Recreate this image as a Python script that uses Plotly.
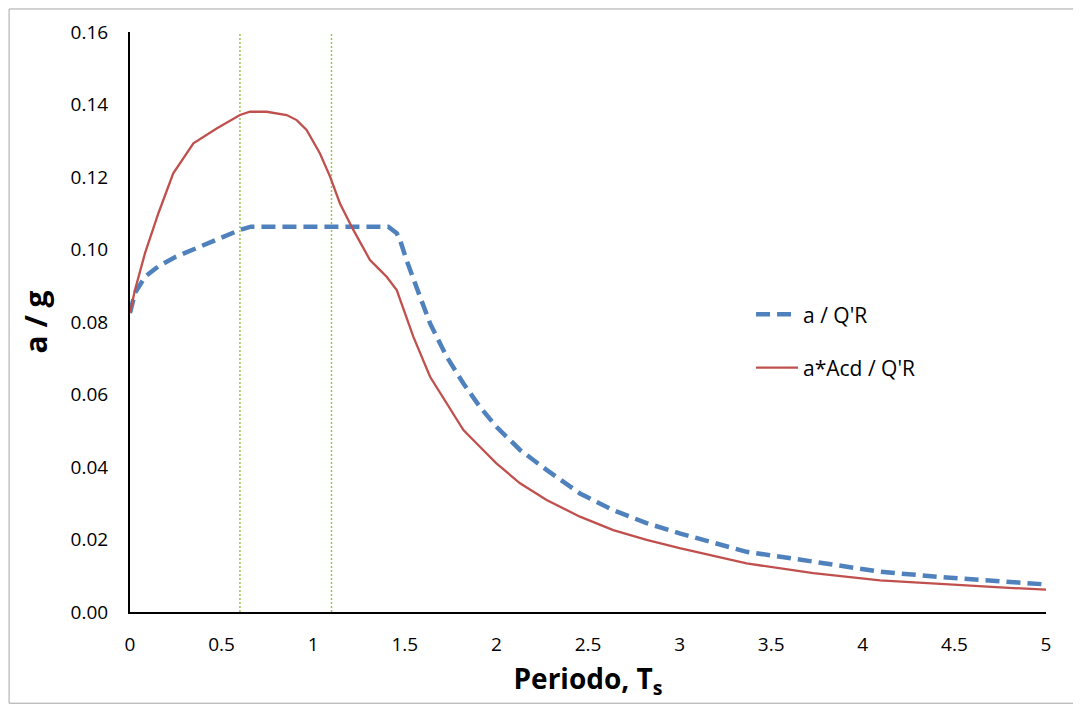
import plotly.graph_objects as go

# Periodo T (s) and spectral ordinates
t_blue = [0.0, 0.027, 0.082, 0.153, 0.25, 0.34, 0.45, 0.52, 0.6, 0.66, 1.41, 1.456, 1.474,
          1.51, 1.547, 1.583, 1.638, 1.729, 1.819, 1.91, 2.0, 2.129, 2.274, 2.456, 2.638,
          2.82, 3.0, 3.366, 3.73, 4.094, 4.458, 4.822, 5.0]
a_blue = [0.0825, 0.088, 0.0925, 0.0953, 0.098, 0.0999, 0.1022, 0.1035, 0.1054, 0.1063, 0.1063,
          0.1045, 0.1026, 0.097, 0.0916, 0.087, 0.0796, 0.0704, 0.0631, 0.0566, 0.0511, 0.0447,
          0.0392, 0.0327, 0.0281, 0.0245, 0.0217, 0.0166, 0.0139, 0.0111, 0.0095, 0.0081, 0.0076]

t_red = [0.0, 0.027, 0.082, 0.155, 0.236, 0.346, 0.473, 0.6, 0.655, 0.746, 0.855, 0.91, 0.964,
         1.037, 1.092, 1.146, 1.219, 1.31, 1.365, 1.401, 1.456, 1.547, 1.638, 1.729, 1.82,
         1.91, 2.0, 2.129, 2.274, 2.456, 2.638, 2.82, 3.0, 3.366, 3.73, 4.094, 4.458, 4.822, 5.0]
a_red = [0.0825, 0.0888, 0.099, 0.110, 0.121, 0.1293, 0.1334, 0.1371, 0.138, 0.138, 0.1371,
         0.1357, 0.133, 0.1265, 0.1201, 0.1127, 0.1054, 0.0971, 0.0943, 0.0925, 0.0888, 0.0759,
         0.0649, 0.0576, 0.0502, 0.0456, 0.041, 0.0355, 0.0309, 0.0263, 0.0226, 0.0199, 0.0176,
         0.0134, 0.0107, 0.0087, 0.0076, 0.0066, 0.0062]

vline_x = [0.6, 1.1]
y_range = [0, 0.16]
x_ticks = [0, 0.5, 1, 1.5, 2, 2.5, 3, 3.5, 4, 4.5, 5]
x_ticklabels = ["0", "0.5", "1", "1.5", "2", "2.5", "3", "3.5", "4", "4.5", "5"]
y_ticks = [0, 0.02, 0.04, 0.06, 0.08, 0.10, 0.12, 0.14, 0.16]
y_ticklabels = ["0.00", "0.02", "0.04", "0.06", "0.08", "0.10", "0.12", "0.14", "0.16"]

FONT = "Open Sans"
fig = go.Figure()

for vx in vline_x:
    fig.add_trace(go.Scatter(x=[vx, vx], y=y_range, mode="lines", showlegend=False,
                             hoverinfo="skip",
                             line=dict(color="#9BC453", width=1.5, dash="2px,2px")))

fig.add_trace(go.Scatter(x=t_blue, y=a_blue, mode="lines", name="a / Q'R", legendgroup="g1",
                         line=dict(color="#4F81BD", width=4.5, dash="14px,7px")))
fig.add_trace(go.Scatter(x=t_red, y=a_red, mode="lines", name="a*Acd / Q'R", legendgroup="g2",
                         line=dict(color="#C0504D", width=2.3)))

# page body has an 8px margin: figure is 1073x696 placed at (8, 8)
fig.update_layout(
    width=1073, height=696,
    margin=dict(l=122, r=35, t=24, b=92),
    paper_bgcolor="white", plot_bgcolor="white",
    font=dict(family=FONT, color="#000000", size=19),
    legend=dict(x=0.678, y=0.548, xanchor="left", yanchor="top",
                traceorder="grouped", tracegroupgap=23, itemwidth=42,
                font=dict(family=FONT, size=21, color="#000000"),
                bgcolor="rgba(0,0,0,0)"),
    xaxis=dict(range=[0, 5], tickvals=x_ticks, ticktext=x_ticklabels,
               showgrid=False, zeroline=False, showline=True, linecolor="#000000",
               linewidth=2, ticks="", ticklabelstandoff=14,
               tickfont=dict(family=FONT, size=19),
               title=dict(text="Periodo, T<sub>s</sub>", standoff=14,
                          font=dict(family=FONT, size=28, weight="bold"))),
    yaxis=dict(range=y_range, tickvals=y_ticks, ticktext=y_ticklabels,
               showgrid=False, zeroline=False, showline=True, linecolor="#000000",
               linewidth=2, ticks="", ticklabelstandoff=16,
               tickfont=dict(family=FONT, size=19),
               title=dict(text="a / g", standoff=14,
                          font=dict(family=FONT, size=30, weight="bold"))),
    shapes=[dict(type="rect", xref="paper", yref="paper",
                 x0=-0.1320, x1=1.0334, y0=-0.1573, y1=1.0397,
                 line=dict(color="#A6A6A6", width=1), layer="below")],
)

fig.write_html("out.html")
